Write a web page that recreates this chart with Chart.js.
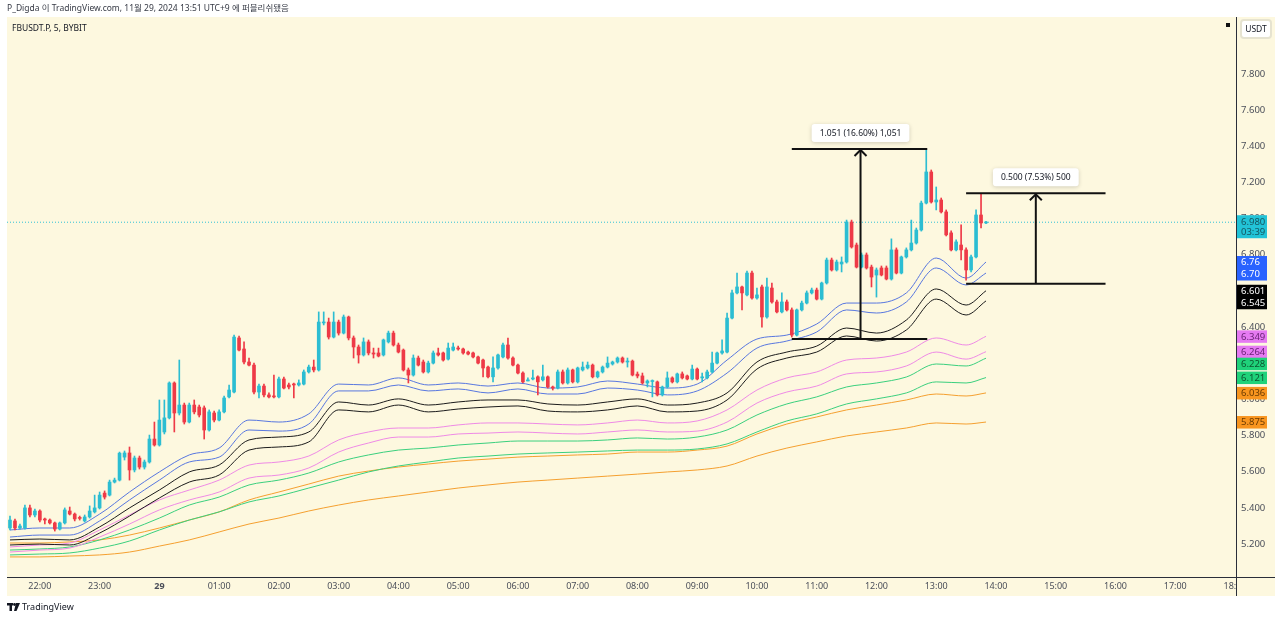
<!DOCTYPE html>
<html>
<head>
<meta charset="utf-8">
<script src="https://cdn.jsdelivr.net/npm/chart.js@4.4.1/dist/chart.umd.min.js"></script>
<style>
  html, body { margin: 0; padding: 0; background: #fff; }
  canvas { display: block; }
</style>
</head>
<body>
<canvas id="chart" width="1280" height="620"></canvas>
<script>
// FBUSDT.P 5m candles, times are minutes from 00:00 on the 29th
const barStart = -150;
const barStep = 5;

const opens = [
  5.289, 5.328, 5.289, 5.289, 5.400, 5.361, 5.383, 5.339, 5.333, 5.317,
  5.283, 5.317, 5.383, 5.366, 5.344, 5.328, 5.350, 5.378, 5.400, 5.482,
  5.471, 5.543, 5.554, 5.681, 5.704, 5.610, 5.676, 5.626, 5.654, 5.781,
  5.748, 5.820, 5.898, 6.091, 5.925, 5.969, 5.875, 5.969, 5.958, 5.953,
  5.831, 5.925, 5.886, 5.931, 6.014, 6.041, 6.340, 6.279, 6.207, 6.190,
  6.041, 6.074, 6.025, 6.019, 6.014, 6.113, 6.080, 6.085, 6.080, 6.085,
  6.152, 6.179, 6.163, 6.423, 6.428, 6.345, 6.428, 6.367, 6.456, 6.340,
  6.290, 6.246, 6.318, 6.257, 6.257, 6.246, 6.318, 6.367, 6.301, 6.273,
  6.163, 6.135, 6.229, 6.207, 6.152, 6.201, 6.257, 6.257, 6.223, 6.273,
  6.284, 6.279, 6.262, 6.257, 6.235, 6.218, 6.179, 6.125, 6.174, 6.235,
  6.301, 6.229, 6.190, 6.146, 6.102, 6.113, 6.125, 6.108, 6.125, 6.069,
  6.063, 6.152, 6.091, 6.163, 6.097, 6.163, 6.174, 6.190, 6.125, 6.152,
  6.179, 6.196, 6.207, 6.229, 6.207, 6.212, 6.140, 6.130, 6.091, 6.099,
  6.097, 6.025, 6.069, 6.119, 6.097, 6.141, 6.130, 6.113, 6.168, 6.119,
  6.119, 6.152, 6.201, 6.257, 6.262, 6.450, 6.589, 6.622, 6.578, 6.699,
  6.561, 6.622, 6.456, 6.616, 6.539, 6.484, 6.539, 6.495, 6.356, 6.495,
  6.533, 6.589, 6.605, 6.555, 6.644, 6.771, 6.716, 6.749, 6.760, 6.981,
  6.854, 6.732, 6.799, 6.732, 6.688, 6.727, 6.727, 6.666, 6.827, 6.699,
  6.788, 6.827, 6.865, 6.937, 7.086, 7.258, 7.092, 7.103, 7.037, 6.921,
  6.827, 6.854, 6.827, 6.716, 6.788, 7.020, 6.976
];
const highs = [
  5.355, 5.339, 5.311, 5.416, 5.416, 5.394, 5.389, 5.344, 5.339, 5.322,
  5.322, 5.400, 5.405, 5.372, 5.355, 5.361, 5.411, 5.471, 5.488, 5.494,
  5.554, 5.565, 5.709, 5.715, 5.737, 5.687, 5.687, 5.665, 5.803, 5.875,
  5.997, 5.997, 6.097, 6.097, 6.218, 5.980, 5.980, 5.997, 5.969, 5.964,
  5.942, 5.936, 5.942, 6.019, 6.080, 6.356, 6.351, 6.318, 6.229, 6.201,
  6.085, 6.085, 6.036, 6.135, 6.124, 6.124, 6.091, 6.091, 6.108, 6.163,
  6.190, 6.218, 6.484, 6.484, 6.450, 6.484, 6.439, 6.467, 6.461, 6.351,
  6.301, 6.340, 6.329, 6.284, 6.284, 6.334, 6.378, 6.378, 6.312, 6.279,
  6.174, 6.246, 6.240, 6.218, 6.212, 6.268, 6.284, 6.262, 6.312, 6.312,
  6.295, 6.284, 6.268, 6.262, 6.240, 6.223, 6.185, 6.235, 6.251, 6.312,
  6.340, 6.235, 6.196, 6.152, 6.119, 6.163, 6.130, 6.190, 6.130, 6.074,
  6.163, 6.163, 6.174, 6.168, 6.179, 6.207, 6.207, 6.196, 6.157, 6.185,
  6.235, 6.212, 6.235, 6.235, 6.229, 6.218, 6.152, 6.146, 6.108, 6.108,
  6.102, 6.074, 6.152, 6.125, 6.146, 6.152, 6.135, 6.190, 6.174, 6.146,
  6.163, 6.262, 6.262, 6.329, 6.478, 6.605, 6.699, 6.627, 6.710, 6.710,
  6.616, 6.633, 6.671, 6.644, 6.550, 6.589, 6.550, 6.506, 6.500, 6.544,
  6.600, 6.616, 6.616, 6.649, 6.782, 6.782, 6.771, 6.788, 6.992, 6.992,
  6.865, 6.810, 6.810, 6.743, 6.727, 6.738, 6.738, 6.888, 6.838, 6.793,
  6.838, 6.992, 6.948, 7.097, 7.380, 7.269, 7.175, 7.114, 7.048, 6.932,
  6.882, 6.965, 6.838, 6.799, 7.048, 7.140, 6.985
];
const lows = [
  5.278, 5.278, 5.283, 5.283, 5.350, 5.350, 5.322, 5.311, 5.311, 5.272,
  5.278, 5.311, 5.361, 5.328, 5.333, 5.322, 5.344, 5.372, 5.394, 5.449,
  5.466, 5.538, 5.549, 5.665, 5.554, 5.599, 5.615, 5.615, 5.648, 5.742,
  5.742, 5.809, 5.892, 5.820, 5.914, 5.864, 5.870, 5.920, 5.903, 5.781,
  5.825, 5.875, 5.881, 5.925, 6.008, 6.036, 6.268, 6.196, 6.185, 6.030,
  6.008, 6.014, 6.008, 6.008, 6.008, 6.058, 6.058, 6.008, 6.074, 6.080,
  6.146, 6.152, 6.157, 6.412, 6.334, 6.340, 6.356, 6.362, 6.329, 6.229,
  6.201, 6.240, 6.246, 6.229, 6.235, 6.240, 6.312, 6.295, 6.257, 6.157,
  6.091, 6.129, 6.185, 6.146, 6.146, 6.196, 6.240, 6.212, 6.218, 6.268,
  6.273, 6.251, 6.246, 6.229, 6.196, 6.125, 6.119, 6.097, 6.168, 6.229,
  6.223, 6.185, 6.141, 6.091, 6.102, 6.108, 6.025, 6.102, 6.063, 6.052,
  6.058, 6.085, 6.085, 6.091, 6.091, 6.157, 6.168, 6.119, 6.119, 6.146,
  6.174, 6.190, 6.201, 6.201, 6.179, 6.130, 6.119, 6.085, 6.069, 6.014,
  6.019, 6.019, 6.063, 6.091, 6.091, 6.113, 6.108, 6.108, 6.108, 6.097,
  6.113, 6.146, 6.196, 6.251, 6.257, 6.445, 6.583, 6.495, 6.572, 6.555,
  6.555, 6.400, 6.450, 6.533, 6.478, 6.478, 6.489, 6.345, 6.351, 6.489,
  6.528, 6.583, 6.550, 6.550, 6.638, 6.710, 6.710, 6.705, 6.754, 6.837,
  6.727, 6.727, 6.721, 6.622, 6.566, 6.683, 6.661, 6.660, 6.694, 6.694,
  6.782, 6.821, 6.859, 6.931, 7.081, 7.086, 7.048, 7.031, 6.904, 6.821,
  6.821, 6.771, 6.659, 6.705, 6.782, 6.948, 6.972
];
const closes = [
  5.333, 5.289, 5.300, 5.400, 5.361, 5.383, 5.333, 5.333, 5.317, 5.283,
  5.317, 5.389, 5.366, 5.339, 5.342, 5.350, 5.383, 5.400, 5.471, 5.460,
  5.543, 5.554, 5.703, 5.704, 5.610, 5.676, 5.626, 5.654, 5.781, 5.748,
  5.886, 5.898, 6.091, 5.925, 5.969, 5.875, 5.969, 5.931, 5.914, 5.831,
  5.931, 5.886, 5.931, 6.008, 6.052, 6.345, 6.273, 6.207, 6.190, 6.041,
  6.074, 6.025, 6.014, 6.014, 6.113, 6.063, 6.069, 6.080, 6.091, 6.152,
  6.179, 6.163, 6.428, 6.428, 6.345, 6.428, 6.367, 6.456, 6.340, 6.290,
  6.246, 6.318, 6.257, 6.251, 6.240, 6.329, 6.367, 6.301, 6.262, 6.163,
  6.135, 6.229, 6.190, 6.152, 6.201, 6.257, 6.246, 6.218, 6.284, 6.290,
  6.279, 6.257, 6.251, 6.235, 6.201, 6.174, 6.125, 6.174, 6.246, 6.301,
  6.229, 6.190, 6.146, 6.097, 6.108, 6.119, 6.097, 6.125, 6.069, 6.063,
  6.152, 6.091, 6.163, 6.097, 6.174, 6.179, 6.190, 6.125, 6.152, 6.179,
  6.201, 6.207, 6.229, 6.207, 6.212, 6.135, 6.130, 6.091, 6.102, 6.104,
  6.025, 6.069, 6.119, 6.097, 6.141, 6.119, 6.113, 6.168, 6.113, 6.125,
  6.152, 6.201, 6.257, 6.268, 6.450, 6.589, 6.622, 6.589, 6.699, 6.561,
  6.578, 6.456, 6.622, 6.539, 6.484, 6.539, 6.495, 6.356, 6.495, 6.533,
  6.589, 6.605, 6.555, 6.644, 6.771, 6.716, 6.760, 6.760, 6.981, 6.843,
  6.732, 6.799, 6.727, 6.677, 6.716, 6.688, 6.666, 6.827, 6.699, 6.788,
  6.827, 6.865, 6.937, 7.086, 7.258, 7.092, 7.103, 7.037, 6.910, 6.827,
  6.871, 6.827, 6.716, 6.788, 7.020, 6.976, 6.980
];

// envelope bands, sampled every 30 minutes
const bandTimes = [
  -150, -120, -90, -60, -30, 0, 30, 60, 90, 120, 150, 180, 210, 240, 270, 300, 330,
  360, 390, 420, 450, 480, 510, 540, 570, 600, 630, 660, 690, 720, 750, 780, 810, 830
];
const blueUpper = [5.278,5.289,5.289,5.366,5.488,5.599,5.693,5.731,5.886,5.875,5.920,6.085,6.080,6.119,6.080,6.091,6.074,6.091,6.063,6.069,6.102,6.085,6.063,6.085,6.218,6.334,6.356,6.417,6.533,6.533,6.589,6.782,6.671,6.760];
const blueLower = [5.239,5.250,5.250,5.328,5.444,5.554,5.654,5.681,5.831,5.825,5.864,6.047,6.047,6.080,6.047,6.058,6.036,6.058,6.030,6.030,6.063,6.052,6.025,6.047,6.146,6.284,6.323,6.373,6.495,6.478,6.539,6.727,6.633,6.699];
const blackUpper = [5.223,5.228,5.223,5.295,5.400,5.499,5.599,5.637,5.776,5.792,5.820,5.986,5.969,6.003,5.969,5.986,5.997,5.997,5.975,5.969,5.986,6.003,5.969,5.980,6.036,6.207,6.262,6.295,6.395,6.367,6.439,6.611,6.522,6.601];
const blackLower = [5.195,5.200,5.195,5.261,5.355,5.455,5.543,5.582,5.720,5.737,5.765,5.942,5.931,5.969,5.931,5.947,5.958,5.964,5.936,5.931,5.942,5.964,5.931,5.936,5.997,6.168,6.229,6.262,6.351,6.323,6.384,6.555,6.467,6.545];
const pinkUpper = [5.184,5.195,5.206,5.278,5.361,5.444,5.499,5.554,5.637,5.654,5.687,5.776,5.820,5.842,5.842,5.859,5.870,5.870,5.864,5.859,5.870,5.886,5.870,5.881,5.942,6.052,6.119,6.152,6.218,6.229,6.262,6.340,6.301,6.349];
const pinkLower = [5.156,5.167,5.178,5.239,5.311,5.389,5.444,5.488,5.565,5.582,5.621,5.709,5.759,5.792,5.792,5.809,5.814,5.820,5.814,5.809,5.820,5.831,5.820,5.825,5.875,5.980,6.041,6.074,6.141,6.152,6.185,6.262,6.223,6.264];
const greenUpper = [5.167,5.173,5.184,5.223,5.278,5.344,5.416,5.460,5.527,5.554,5.593,5.654,5.693,5.720,5.731,5.748,5.759,5.770,5.770,5.770,5.776,5.787,5.781,5.792,5.831,5.914,5.975,6.014,6.069,6.091,6.124,6.196,6.185,6.228];
const greenLower = [5.140,5.145,5.151,5.178,5.217,5.278,5.333,5.378,5.433,5.466,5.510,5.554,5.599,5.632,5.654,5.676,5.687,5.698,5.704,5.709,5.715,5.720,5.720,5.726,5.754,5.820,5.881,5.920,5.975,6.003,6.036,6.097,6.091,6.121];
const orangeUpper = [5.206,5.206,5.212,5.223,5.250,5.289,5.333,5.378,5.444,5.488,5.532,5.576,5.604,5.626,5.643,5.659,5.670,5.681,5.687,5.693,5.698,5.709,5.709,5.720,5.742,5.809,5.864,5.903,5.942,5.969,5.997,6.030,6.019,6.036];
const orangeLower = [5.129,5.129,5.134,5.140,5.156,5.189,5.223,5.267,5.311,5.344,5.383,5.416,5.444,5.466,5.488,5.510,5.527,5.543,5.554,5.565,5.576,5.587,5.599,5.610,5.632,5.687,5.731,5.765,5.798,5.820,5.842,5.870,5.864,5.875];

const lastPrice = 6.980;
const countdown = '03:39';

const xTickValues = [-120, -60, 0, 60, 120, 180, 240, 300, 360, 420, 480, 540, 600, 660, 720, 780, 840, 900, 960, 1020, 1080];
const yTickValues = [5.2, 5.4, 5.6, 5.8, 6.0, 6.2, 6.4, 6.6, 6.8, 7.0, 7.2, 7.4, 7.6, 7.8];

// price range tool drawings
const measureFrom = [635, 810];
const measureTo = [771, 950];
const measureAt = [704, 880];
const measureLow = [6.334, 6.640];
const measureHigh = [7.385, 7.140];
const measureLabels = ['1.051 (16.60%) 1,051', '0.500 (7.53%) 500'];

const X_MIN = -153, X_MAX = 1081;
const CREAM = '#fdf8df';
const UP = '#2cbdd2';
const DOWN = '#ee3a47';
const FONT = '"Noto Sans", "Noto Sans CJK KR", sans-serif';

Chart.defaults.font.family = FONT;
Chart.defaults.font.size = 10;

const barTimes = opens.map((_, i) => barStart + i * barStep);
const candleColors = opens.map((o, i) => closes[i] >= o ? UP : DOWN);

const wicks = barTimes.map((t, i) => ({ x: t, y: [lows[i], highs[i]] }));
const bodies = barTimes.map((t, i) => ({ x: t, y: [opens[i], closes[i]] }));

const bands = [
  { data: blueUpper, color: '#5877e0', tag: '#2962ff', ink: '#ffffff', digits: 2 },
  { data: blueLower, color: '#5877e0', tag: '#2962ff', ink: '#ffffff', digits: 2 },
  { data: blackUpper, color: '#1c1c1c', tag: '#000000', ink: '#ffffff', digits: 3 },
  { data: blackLower, color: '#1c1c1c', tag: '#000000', ink: '#ffffff', digits: 3 },
  { data: pinkUpper, color: '#ef8ae6', tag: '#e57af2', ink: '#6a2276', digits: 3 },
  { data: pinkLower, color: '#ef8ae6', tag: '#e57af2', ink: '#6a2276', digits: 3 },
  { data: greenUpper, color: '#3bd07e', tag: '#1fd27a', ink: '#0d5530', digits: 3 },
  { data: greenLower, color: '#3bd07e', tag: '#1fd27a', ink: '#0d5530', digits: 3 },
  { data: orangeUpper, color: '#f5a030', tag: '#f8951f', ink: '#6a3a00', digits: 3 },
  { data: orangeLower, color: '#f5a030', tag: '#f8951f', ink: '#6a3a00', digits: 3 }
];

const bandDatasets = bands.map(b => ({
  type: 'line',
  data: bandTimes.map((t, i) => ({ x: t, y: b.data[i] })),
  borderColor: b.color,
  borderWidth: 1,
  pointRadius: 0,
  cubicInterpolationMode: 'monotone',
  order: 5
}));

function segment(x1, y1, x2, y2) {
  return {
    type: 'line',
    data: [{ x: x1, y: y1 }, { x: x2, y: y2 }],
    borderColor: '#111111',
    borderWidth: 2,
    pointRadius: 0,
    order: -1
  };
}

const measureDatasets = [];
measureFrom.forEach((f, i) => {
  measureDatasets.push(segment(f, measureHigh[i], measureTo[i], measureHigh[i]));
  measureDatasets.push(segment(f, measureLow[i], measureTo[i], measureLow[i]));
  measureDatasets.push(segment(measureAt[i], measureLow[i], measureAt[i], measureHigh[i]));
});

function roundRect(c, x, y, w, h, r) {
  c.beginPath();
  c.moveTo(x + r, y);
  c.arcTo(x + w, y, x + w, y + h, r);
  c.arcTo(x + w, y + h, x, y + h, r);
  c.arcTo(x, y + h, x, y, r);
  c.arcTo(x, y, x + w, y, r);
  c.closePath();
}

const decor = {
  id: 'decor',
  beforeDraw(chart) {
    const { ctx: c, chartArea: a, scales: { x, y } } = chart;
    c.save();
    c.fillStyle = '#ffffff';
    c.fillRect(0, 0, chart.width, chart.height);
    c.fillStyle = CREAM;
    c.fillRect(a.left, a.top, y.right - a.left, x.bottom - a.top);
    c.restore();
  },
  afterDraw(chart) {
    const { ctx: c, chartArea: a, scales: { x, y } } = chart;
    c.save();

    // clip the 18:00 label under the price scale
    c.fillStyle = CREAM;
    c.fillRect(a.right + 1, a.bottom + 1, y.right - a.right - 1, x.bottom - a.bottom - 1);
    c.strokeStyle = '#2a2e39';
    c.lineWidth = 1;
    c.beginPath();
    c.moveTo(Math.round(a.right) + 0.5, a.top);
    c.lineTo(Math.round(a.right) + 0.5, x.bottom);
    c.moveTo(a.left, Math.round(a.bottom) + 0.5);
    c.lineTo(y.right, Math.round(a.bottom) + 0.5);
    c.stroke();

    // arrow heads and value boxes of the range tools
    measureAt.forEach((t, i) => {
      const px = x.getPixelForValue(t);
      const py = y.getPixelForValue(measureHigh[i]);
      c.strokeStyle = '#111111';
      c.lineWidth = 2;
      c.beginPath();
      c.moveTo(px - 6, py + 7);
      c.lineTo(px, py + 1);
      c.lineTo(px + 6, py + 7);
      c.stroke();

      c.font = '8.5px ' + FONT;
      const w = c.measureText(measureLabels[i]).width + 16;
      const bx = px - w / 2, by = py - 25;
      c.shadowColor = 'rgba(0,0,0,0.18)';
      c.shadowBlur = 4;
      c.shadowOffsetY = 1;
      c.fillStyle = '#ffffff';
      roundRect(c, bx, by, w, 18, 3);
      c.fill();
      c.shadowColor = 'transparent';
      c.fillStyle = '#131722';
      c.textAlign = 'center';
      c.textBaseline = 'middle';
      c.fillText(measureLabels[i], px, by + 9.5);
    });

    // price scale tags
    const tagX = a.right + 1;
    const tagW = 30;
    const py = y.getPixelForValue(lastPrice);
    c.fillStyle = '#22c3d7';
    c.fillRect(tagX, py - 7, tagW, 23);
    c.fillStyle = '#145660';
    c.font = '9.5px ' + FONT;
    c.textAlign = 'left';
    c.textBaseline = 'middle';
    c.fillText(lastPrice.toFixed(3), tagX + 4, py);
    c.fillText(countdown, tagX + 4, py + 10);

    const tags = bands.map(b => {
      const v = b.data[b.data.length - 1];
      return { v, y: y.getPixelForValue(v), b };
    }).sort((p, q) => p.y - q.y);
    let prevBottom = -Infinity;
    tags.forEach(t => {
      let top = t.y - 6;
      if (top < prevBottom) top = prevBottom;
      prevBottom = top + 12;
      c.fillStyle = t.b.tag;
      c.fillRect(tagX, top, tagW, 12.5);
      c.fillStyle = t.b.ink;
      c.fillText(t.v.toFixed(t.b.digits), tagX + 4, top + 6.5);
    });

    // currency box on top of the price scale
    c.fillStyle = '#ffffff';
    c.strokeStyle = '#e6e3d0';
    roundRect(c, a.right + 5, a.top + 3, 30, 18, 3);
    c.fill();
    c.stroke();
    c.fillStyle = '#131722';
    c.font = '8.5px ' + FONT;
    c.textAlign = 'center';
    c.fillText('USDT', a.right + 20, a.top + 12.5);
    c.fillStyle = '#111111';
    c.fillRect(a.right - 10, a.top + 6, 4, 4);

    // header, symbol and footer texts
    c.textAlign = 'left';
    c.fillStyle = '#363a45';
    c.font = '8.5px ' + FONT;
    c.fillText('P_Digda 이 TradingView.com, 11월 29, 2024 13:51 UTC+9 에 퍼블리쉬됐음', 7, 9);
    c.font = '8.5px ' + FONT;
    c.fillStyle = '#131722';
    c.fillText('FBUSDT.P, 5, BYBIT', a.left + 5, a.top + 12);

    const ly = 607;
    c.fillStyle = '#131722';
    c.fillRect(7, ly - 4, 6, 2.5);
    c.fillRect(9.5, ly - 4, 2.5, 8);
    c.beginPath();
    c.arc(14.5, ly - 2.5, 1.4, 0, Math.PI * 2);
    c.fill();
    c.beginPath();
    c.moveTo(16, ly - 4);
    c.lineTo(20, ly - 4);
    c.lineTo(16.5, ly + 4);
    c.lineTo(14, ly + 4);
    c.closePath();
    c.fill();
    c.font = '9px ' + FONT;
    c.fillText('TradingView', 22, ly + 0.5);

    c.restore();
  }
};

function timeLabel(v) {
  if (v === 0) return '29';
  const h = ((Math.round(v / 60) % 24) + 24) % 24;
  return String(h).padStart(2, '0') + ':00';
}

new Chart(document.getElementById('chart'), {
  type: 'bar',
  data: {
    datasets: [
      {
        type: 'line',
        data: [{ x: X_MIN, y: lastPrice }, { x: X_MAX, y: lastPrice }],
        borderColor: '#31c2d6',
        borderWidth: 1,
        borderDash: [1, 2],
        pointRadius: 0,
        order: 6
      },
      ...bandDatasets,
      {
        data: wicks,
        backgroundColor: candleColors,
        barThickness: 1,
        grouped: false,
        order: 2
      },
      {
        data: bodies,
        backgroundColor: candleColors,
        barThickness: 3,
        minBarLength: 1,
        grouped: false,
        order: 1
      },
      ...measureDatasets
    ]
  },
  options: {
    responsive: false,
    animation: false,
    events: [],
    layout: { padding: { left: 7, top: 17, right: 5, bottom: 24 } },
    plugins: {
      legend: { display: false },
      tooltip: { enabled: false }
    },
    scales: {
      x: {
        type: 'linear',
        min: X_MIN,
        max: X_MAX,
        offset: false,
        grid: { display: false, drawTicks: false },
        border: { display: true, color: '#2a2e39' },
        afterBuildTicks: s => { s.ticks = xTickValues.map(v => ({ value: v })); },
        afterFit: s => { s.height = 19; },
        ticks: {
          autoSkip: false,
          maxRotation: 0,
          padding: 4,
          color: '#4a4e59',
          font: ctx => ({ size: 9, weight: ctx.tick && ctx.tick.value === 0 ? 'bold' : 'normal' }),
          callback: v => timeLabel(v)
        }
      },
      y: {
        type: 'linear',
        position: 'right',
        min: 5.018,
        max: 8.115,
        grid: { display: false, drawTicks: false },
        border: { display: true, color: '#2a2e39' },
        afterBuildTicks: s => { s.ticks = yTickValues.map(v => ({ value: v })); },
        afterFit: s => { s.width = 39; },
        ticks: {
          padding: 5,
          color: '#4a4e59',
          font: { size: 9.5 },
          callback: v => Number(v).toFixed(3)
        }
      }
    }
  },
  plugins: [decor]
});
</script>
</body>
</html>
